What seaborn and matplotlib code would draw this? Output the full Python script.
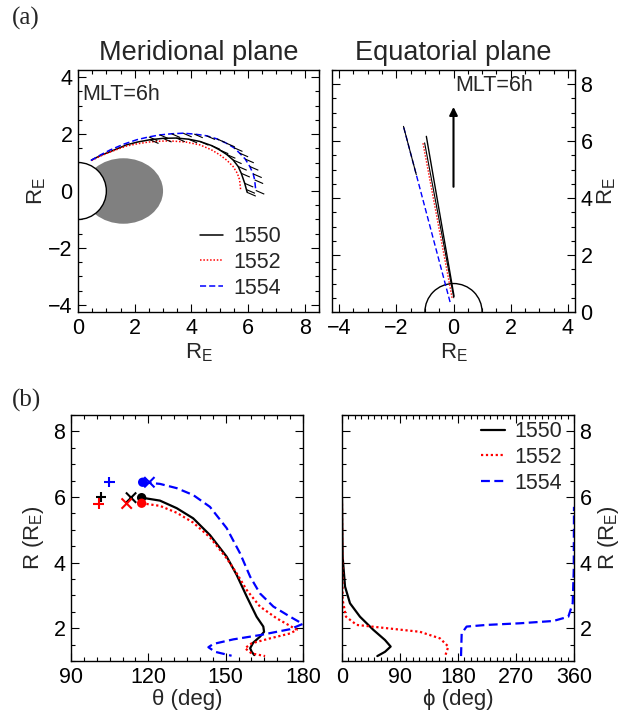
import numpy as np
import pandas as pd
import matplotlib
matplotlib.use("Agg")
import matplotlib.pyplot as plt
import seaborn as sns
from matplotlib.patches import Ellipse, Circle, Arc
from matplotlib.ticker import MultipleLocator
from matplotlib.collections import LineCollection

# ---------------- data ----------------
series = ["1550", "1552", "1554"]
colors = {"1550": "black", "1552": "red", "1554": "blue"}
dashes = {"1550": "", "1552": (1, 1.2), "1554": (4, 2)}

# meridional plane field lines (x, z in R_E)
mer_x_1550 = [0.48, 0.80, 1.13, 1.71, 2.10, 2.54, 3.00, 3.47, 3.90, 4.30, 4.70, 5.00, 5.25, 5.47, 5.65, 5.76, 5.88, 5.94, 5.97]
mer_z_1550 = [1.09, 1.25, 1.38, 1.62, 1.72, 1.80, 1.85, 1.86, 1.82, 1.74, 1.60, 1.44, 1.28, 1.09, 0.86, 0.62, 0.27, 0.05, -0.05]
mer_x_1552 = [0.48, 0.80, 1.10, 1.71, 2.10, 2.50, 2.90, 3.24, 3.80, 4.30, 4.70, 5.00, 5.25, 5.47, 5.62, 5.70, 5.74]
mer_z_1552 = [1.07, 1.23, 1.36, 1.58, 1.66, 1.72, 1.75, 1.76, 1.72, 1.62, 1.45, 1.27, 1.08, 0.86, 0.62, 0.39, 0.00]
mer_x_1554 = [0.45, 0.80, 1.13, 1.60, 2.07, 2.50, 2.89, 3.30, 3.71, 4.10, 4.53, 4.90, 5.23, 5.50, 5.70, 5.90, 6.06, 6.18, 6.23, 6.27]
mer_z_1554 = [1.07, 1.27, 1.44, 1.64, 1.80, 1.90, 1.97, 2.01, 2.03, 2.00, 1.94, 1.83, 1.68, 1.52, 1.33, 1.12, 0.86, 0.60, 0.39, 0.02]

# equatorial plane projections (x, y in R_E)
eq_x_1550 = [0.02, -0.95]
eq_y_1550 = [0.55, 6.17]
eq_x_1552 = [-0.05, -1.07]
eq_y_1552 = [0.50, 5.94]
eq_x_1554 = [-0.12, -1.75]
eq_y_1554 = [0.35, 6.52]

# R vs theta
th_1550 = [117.4, 124.5, 131.0, 137.4, 143.9, 150.4, 154.3, 158.2, 162.0, 164.6, 164.9, 163.3, 160.7, 159.5, 160.1, 161.1]
Rth_1550 = [5.98, 5.89, 5.66, 5.35, 4.84, 4.18, 3.62, 2.96, 2.35, 2.05, 1.89, 1.74, 1.56, 1.39, 1.28, 1.18]
th_1552 = [117.4, 124.5, 131.0, 137.4, 143.9, 150.4, 154.3, 158.2, 163.3, 169.8, 175.0, 177.6, 175.0, 167.2, 160.1, 157.5, 160.1, 165.3]
Rth_1552 = [5.81, 5.73, 5.52, 5.22, 4.77, 4.13, 3.67, 3.16, 2.66, 2.30, 2.07, 1.95, 1.84, 1.69, 1.54, 1.39, 1.23, 1.15]
th_1554 = [117.8, 124.5, 131.0, 137.4, 143.9, 150.4, 155.6, 159.5, 163.3, 168.5, 175.0, 179.9, 175.0, 163.3, 153.0, 145.2, 143.3, 145.9, 152.3]
Rth_1554 = [6.45, 6.40, 6.27, 6.06, 5.70, 5.05, 4.28, 3.57, 3.06, 2.66, 2.35, 2.13, 1.97, 1.79, 1.66, 1.52, 1.42, 1.28, 1.16]

# markers: dot (start), x, +
dot_th = [117.4, 117.4, 117.8]
dot_R = [5.98, 5.81, 6.45]
x_th = [113.3, 111.6, 120.4]
x_R = [5.98, 5.80, 6.45]
p_th = [101.6, 100.7, 104.9]
p_R = [6.00, 5.80, 6.45]

# R vs phi
ph_1550 = [0.0, 0.5, 1.0, 4.7, 12.4, 27.9, 48.6, 66.7, 75.5, 66.7, 54.8]
Rph_1550 = [5.97, 5.00, 4.18, 3.27, 2.76, 2.35, 1.95, 1.64, 1.44, 1.28, 1.15]
ph_1552 = [0.0, 0.5, 1.0, 6.2, 22.8, 69.4, 121.0, 152.0, 165.0, 160.0]
Rph_1552 = [5.80, 4.00, 2.86, 2.35, 2.10, 2.00, 1.89, 1.69, 1.44, 1.15]
ph_1554 = [184.7, 185.7, 193.4, 224.5, 276.0, 327.9, 351.2, 358.0, 359.6, 360.0]
Rph_1554 = [1.15, 1.84, 2.05, 2.10, 2.15, 2.22, 2.35, 2.76, 3.77, 5.70]

# ---------------- style ----------------
sns.set_style("ticks")
plt.rcParams["font.family"] = ["Liberation Sans", "DejaVu Sans"]
plt.rcParams["mathtext.fontset"] = "custom"
plt.rcParams["mathtext.rm"] = "Liberation Sans"
plt.rcParams["axes.linewidth"] = 1.0
plt.rcParams["axes.edgecolor"] = "black"

FS = 15.5
W, H = 628, 719
fig = plt.figure(figsize=(W / 100, H / 100), dpi=100)


def ax_px(l, t, r, b):
    return fig.add_axes([l / W, 1 - b / H, (r - l) / W, (b - t) / H])


def style_axes(ax, xmaj, xmin, ymaj, ymin, right_labels=False):
    ax.xaxis.set_major_locator(MultipleLocator(xmaj))
    ax.xaxis.set_minor_locator(MultipleLocator(xmin))
    ax.yaxis.set_major_locator(MultipleLocator(ymaj))
    ax.yaxis.set_minor_locator(MultipleLocator(ymin))
    ax.tick_params(which="both", direction="in", top=True, right=True, colors="black",
                   labelsize=FS, width=0.8)
    ax.tick_params(which="major", length=6, pad=4)
    ax.tick_params(which="minor", length=3)
    if right_labels:
        ax.tick_params(labelleft=False, labelright=True)
        ax.yaxis.set_label_position("right")
    for s in ax.spines.values():
        s.set_color("black")
        s.set_linewidth(1.0)


def long_df(xs, ys):
    rows = []
    for s in series:
        for i, (a, b) in enumerate(zip(xs[s], ys[s])):
            rows.append({"x": a, "y": b, "series": s, "order": i})
    return pd.DataFrame(rows)


# ---------- (a) meridional ----------
ax1 = ax_px(78, 70, 319, 312)
ax1.set_xlim(0, 8.5)
ax1.set_ylim(-4.25, 4.25)
ax1.add_patch(Ellipse((1.6, 0.0), 2.8, 2.3, facecolor="#808080", edgecolor="none", zorder=1))
ax1.add_patch(Circle((0, 0), 1.0, facecolor="white", edgecolor="black", lw=1.0, zorder=2))
mer = long_df({"1550": mer_x_1550, "1552": mer_x_1552, "1554": mer_x_1554},
              {"1550": mer_z_1550, "1552": mer_z_1552, "1554": mer_z_1554})
sns.lineplot(data=mer, x="x", y="y", hue="series", style="series", palette=colors,
             dashes=dashes, sort=False, estimator=None, ax=ax1, lw=1.1, legend=True, zorder=3)
# short wave-direction strokes along black and blue lines
segs = []
for xs, zs in ((mer_x_1550, mer_z_1550), (mer_x_1554, mer_z_1554)):
    for a, b in zip(xs, zs):
        if a > 2.3:
            segs.append([(a, b), (a + 0.30, b - 0.13)])
ax1.add_collection(LineCollection(segs, colors="black", lw=0.8, zorder=4))
ax1.legend(loc="upper left", bbox_to_anchor=(0.505, 0.355), frameon=False,
           fontsize=FS, handlelength=1.1, handletextpad=0.45, labelspacing=0.22,
           borderaxespad=0, borderpad=0)
ax1.text(0.15, 3.4, "MLT=6h", fontsize=FS, va="center", ha="left")
style_axes(ax1, 2, 0.5, 2, 0.5)
ax1.set_xlabel(r"R$_\mathregular{E}$", fontsize=16, labelpad=2)
ax1.set_ylabel(r"R$_\mathregular{E}$", fontsize=16, labelpad=0)
ax1.set_title("Meridional plane", fontsize=19.5, pad=7)

# ---------- (a) equatorial ----------
ax2 = ax_px(332, 70, 575, 312)
ax2.set_xlim(-4.25, 4.25)
ax2.set_ylim(0, 8.5)
ax2.add_patch(Arc((0, 0), 2.0, 2.0, theta1=0, theta2=180, color="black", lw=1.0))
eq = long_df({"1550": eq_x_1550, "1552": eq_x_1552, "1554": eq_x_1554},
             {"1550": eq_y_1550, "1552": eq_y_1552, "1554": eq_y_1554})
sns.lineplot(data=eq, x="x", y="y", hue="series", style="series", palette=colors,
             dashes=dashes, sort=False, estimator=None, ax=ax2, lw=1.0, legend=False, zorder=3)
# black wave-direction overlay lines
ov_x = np.array(eq_x_1552) + 0.06
ax2.plot(ov_x, eq_y_1552, color="black", lw=0.8, zorder=4)
ax2.plot([eq_x_1554[1], eq_x_1554[1] + 0.45], [eq_y_1554[1], eq_y_1554[1] - 1.7],
         color="black", lw=0.8, zorder=4)
ax2.annotate("", xy=(0, 7.3), xytext=(0, 4.3),
             arrowprops=dict(arrowstyle="-|>", color="black", lw=1.5, mutation_scale=12))
ax2.text(0.05, 7.95, "MLT=6h", fontsize=FS, va="center", ha="left")
style_axes(ax2, 2, 0.5, 2, 0.5, right_labels=True)
ax2.set_xlabel(r"R$_\mathregular{E}$", fontsize=16, labelpad=2)
ax2.set_ylabel(r"R$_\mathregular{E}$", fontsize=16, labelpad=2)
ax2.set_title("Equatorial plane", fontsize=19.5, pad=7)

# ---------- (b) R vs theta ----------
ax3 = ax_px(71, 415, 303, 661)
ax3.set_xlim(90, 180)
ax3.set_ylim(1, 8.5)
th = long_df({"1550": th_1550, "1552": th_1552, "1554": th_1554},
             {"1550": Rth_1550, "1552": Rth_1552, "1554": Rth_1554})
sns.lineplot(data=th, x="x", y="y", hue="series", style="series", palette=colors,
             dashes=dashes, sort=False, estimator=None, ax=ax3, lw=1.6, legend=False)
mk = pd.DataFrame({"series": series, "dot_th": dot_th, "dot_R": dot_R,
                   "x_th": x_th, "x_R": x_R, "p_th": p_th, "p_R": p_R})
sns.scatterplot(data=mk, x="dot_th", y="dot_R", hue="series", palette=colors, marker="o",
                s=45, edgecolor="none", ax=ax3, legend=False, zorder=5)
sns.scatterplot(data=mk, x="x_th", y="x_R", hue="series", palette=colors, marker="x",
                s=55, linewidth=1.5, ax=ax3, legend=False, zorder=5)
sns.scatterplot(data=mk, x="p_th", y="p_R", hue="series", palette=colors, marker="+",
                s=55, linewidth=1.5, ax=ax3, legend=False, zorder=5)
style_axes(ax3, 30, 5, 2, 0.5)
ax3.set_xlabel("θ (deg)", fontsize=16, labelpad=1)
ax3.set_ylabel(r"R (R$_\mathregular{E}$)", fontsize=16, labelpad=5)

# ---------- (b) R vs phi ----------
ax4 = ax_px(342, 415, 574, 661)
ax4.set_xlim(0, 360)
ax4.set_ylim(1, 8.5)
ph = long_df({"1550": ph_1550, "1552": ph_1552, "1554": ph_1554},
             {"1550": Rph_1550, "1552": Rph_1552, "1554": Rph_1554})
sns.lineplot(data=ph, x="x", y="y", hue="series", style="series", palette=colors,
             dashes=dashes, sort=False, estimator=None, ax=ax4, lw=1.6, legend=True)
ax4.legend(loc="upper left", bbox_to_anchor=(0.60, 0.975), frameon=False,
           fontsize=FS, handlelength=1.1, handletextpad=0.45, labelspacing=0.22,
           borderaxespad=0, borderpad=0)
style_axes(ax4, 90, 10, 2, 0.5, right_labels=True)
ax4.set_xlabel("ϕ (deg)", fontsize=16, labelpad=1)
ax4.set_ylabel(r"R (R$_\mathregular{E}$)", fontsize=16, labelpad=3)

fig.text(12 / W, 1 - 18 / H, "(a)", fontsize=18, family="Liberation Serif", va="center", ha="left")
fig.text(12 / W, 1 - 400 / H, "(b)", fontsize=18, family="Liberation Serif", va="center", ha="left")

fig.savefig("out.png", dpi=100)
